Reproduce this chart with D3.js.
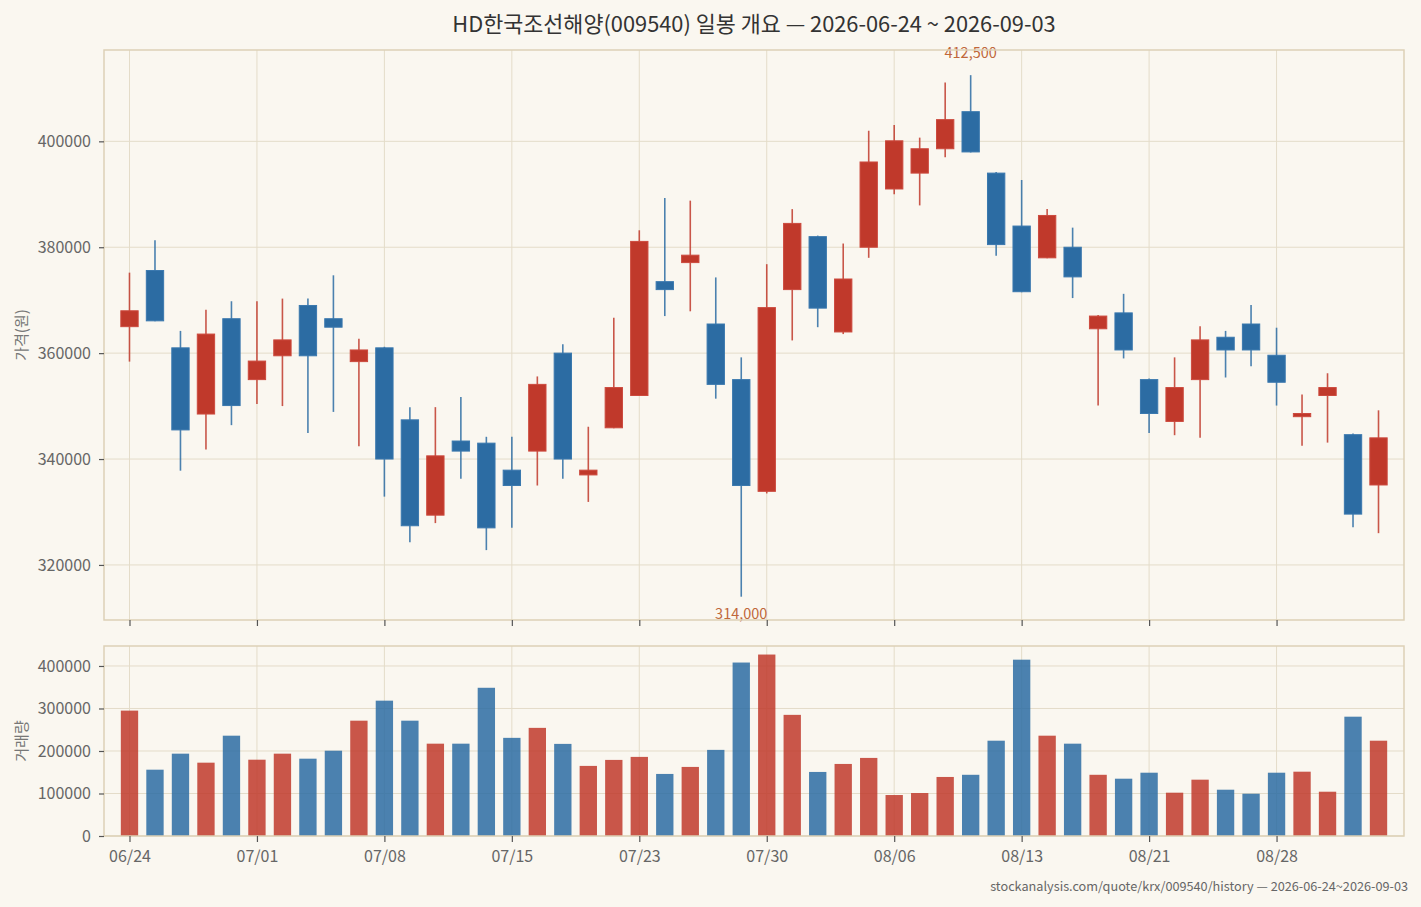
<!DOCTYPE html>
<html>
<head>
<meta charset="utf-8">
<script src="https://cdn.jsdelivr.net/npm/d3@7"></script>
<style>
  html, body { margin: 0; padding: 0; background: #faf7f0; }
  svg { display: block; font-family: "Noto Sans CJK KR", "Noto Sans", sans-serif; }
</style>
</head>
<body>
<script>
// 날짜 (거래일)
const dates = ["06/24","06/25","06/26","06/29","06/30","07/01","07/02","07/03","07/06","07/07",
  "07/08","07/09","07/10","07/13","07/14","07/15","07/16","07/20","07/21","07/22",
  "07/23","07/24","07/27","07/28","07/29","07/30","07/31","08/03","08/04","08/05",
  "08/06","08/07","08/10","08/11","08/12","08/13","08/14","08/18","08/19","08/20",
  "08/21","08/24","08/25","08/26","08/27","08/28","08/31","09/01","09/02","09/03"];

const opens  = [365000,375600,361000,348500,366500,355000,359500,369000,366500,358400,
  361000,347400,329400,343400,343000,337900,341500,360000,337000,345900,
  352000,373500,377100,365500,355000,333900,372000,382000,364000,380000,
  391000,394000,398600,405600,394000,384000,378000,380000,364600,367600,
  355000,347100,355000,363000,365500,359600,348000,352000,344600,335100];
const highs  = [375200,381300,364200,368200,369800,369800,370300,370300,374700,362700,
  361200,349800,349800,351700,344200,344200,355600,361700,346100,366700,
  383200,389300,388800,374300,359200,376800,387200,382200,380700,402000,
  403100,400700,411100,412500,394200,392700,387200,383700,367200,371200,
  355200,359200,365100,364200,369100,364800,352200,356200,344800,349200];
const lows   = [358400,366000,337800,341800,346400,350400,350000,344900,348900,342400,
  332900,324300,327900,336300,322800,327000,335000,336300,331900,345800,
  352000,367000,367900,351400,314000,333500,362400,364900,363600,378000,
  390000,387900,397000,397900,378400,371500,377900,370400,350100,359000,
  344900,344500,344000,355400,357500,350100,342500,343100,327100,326000];
const closes = [368000,366100,345500,363600,350100,358500,362500,359500,364900,360600,
  340000,327400,340600,341500,327000,335000,354100,340000,337900,353500,
  381100,372000,378500,354100,335000,368600,384500,368500,374000,396100,
  400100,398600,404100,398000,380500,371600,386000,374400,367000,360600,
  348600,353500,362500,360600,360600,354500,348600,353500,329600,344000];
const volumes = [295000,156000,193700,172500,236000,179500,193700,181900,200700,271300,
  318400,271300,217200,217200,348700,230900,254400,216700,164900,179000,
  186100,146000,162500,202600,408100,426900,285000,150700,169500,183700,
  96400,101100,138900,144000,224200,414800,236000,217200,144000,134800,
  148900,101900,132500,108900,99500,148900,151300,104200,280700,224200];

const priceDomain = [309600, 417250];
const priceTicks = [320000, 340000, 360000, 380000, 400000];
const volumeDomain = [0, 447000];
const volumeTicks = [0, 100000, 200000, 300000, 400000];
const tickEvery = 5;

const titleText = "HD한국조선해양(009540) 일봉 개요 — 2026-06-24 ~ 2026-09-03";
const sourceText = "stockanalysis.com/quote/krx/009540/history — 2026-06-24~2026-09-03";

const W = 1421, H = 907;
const left = 104, right = 1404;
const priceTop = 50, priceBottom = 620;
const volTop = 646, volBottom = 836;

const UP = "#c0392b", DOWN = "#2c6ca3";
const GRID = "#e4dcc9", FRAME = "#ddd1b6", TICK = "#555", LABEL = "#666";

const rows = dates.map((d, i) => ({
  date: d, open: opens[i], high: highs[i], low: lows[i], close: closes[i], volume: volumes[i]
}));

const svg = d3.select("body").append("svg")
  .attr("width", W).attr("height", H);

svg.append("rect").attr("width", W).attr("height", H).attr("fill", "#faf7f0");

const x = d3.scalePoint().domain(dates).range([left, right]).padding(1);
const step = x.step();
const barW = step * 0.68;

const y = d3.scaleLinear().domain(priceDomain).range([priceBottom, priceTop]);
const yv = d3.scaleLinear().domain(volumeDomain).range([volBottom, volTop]);

const tickDates = dates.filter((d, i) => i % tickEvery === 0);

// 제목
svg.append("text")
  .attr("x", (left + right) / 2).attr("y", 32)
  .attr("text-anchor", "middle")
  .attr("font-size", 21.8).attr("fill", "#333")
  .text(titleText);

function panel(top, bottom, yScale, ticks) {
  const g = svg.append("g");
  // 격자
  g.selectAll(".hg").data(ticks).enter().append("line")
    .attr("x1", left).attr("x2", right)
    .attr("y1", d => yScale(d)).attr("y2", d => yScale(d))
    .attr("stroke", GRID).attr("stroke-width", 1);
  g.selectAll(".vg").data(tickDates).enter().append("line")
    .attr("x1", d => x(d)).attr("x2", d => x(d))
    .attr("y1", top).attr("y2", bottom)
    .attr("stroke", GRID).attr("stroke-width", 1);
  return g;
}

function frame(top, bottom) {
  svg.append("rect")
    .attr("x", left).attr("y", top)
    .attr("width", right - left).attr("height", bottom - top)
    .attr("fill", "none").attr("stroke", FRAME).attr("stroke-width", 1.5);
}

function styleAxis(g) {
  g.select(".domain").remove();
  g.selectAll(".tick line").attr("stroke", TICK).attr("stroke-width", 1.2);
  g.selectAll(".tick text").attr("fill", LABEL).attr("font-size", 16)
    .attr("font-family", "'Noto Sans CJK KR', 'Noto Sans', sans-serif");
}

// 가격 패널
panel(priceTop, priceBottom, y, priceTicks);

const candles = svg.append("g");
candles.selectAll(".wick").data(rows).enter().append("line")
  .attr("x1", d => x(d.date)).attr("x2", d => x(d.date))
  .attr("y1", d => y(d.high)).attr("y2", d => y(d.low))
  .attr("stroke", d => d.close >= d.open ? UP : DOWN)
  .attr("stroke-opacity", 0.85)
  .attr("stroke-width", 1.6);

candles.selectAll(".body").data(rows).enter().append("rect")
  .attr("x", d => x(d.date) - barW / 2)
  .attr("width", barW)
  .attr("y", d => y(Math.max(d.open, d.close)))
  .attr("height", d => Math.max(1, y(Math.min(d.open, d.close)) - y(Math.max(d.open, d.close))))
  .attr("fill", d => d.close >= d.open ? UP : DOWN)
  .attr("stroke", d => d.close >= d.open ? "#cc4a3e" : "#3a78ae")
  .attr("stroke-width", 1);

// 최고 / 최저 표시
const hiRow = rows.reduce((a, b) => b.high > a.high ? b : a);
const loRow = rows.reduce((a, b) => b.low < a.low ? b : a);
svg.append("text")
  .attr("x", x(hiRow.date)).attr("y", y(hiRow.high) - 17)
  .attr("text-anchor", "middle").attr("font-size", 14.5).attr("fill", "#c0673a")
  .text(d3.format(",")(hiRow.high));
svg.append("text")
  .attr("x", x(loRow.date)).attr("y", y(loRow.low) + 22)
  .attr("text-anchor", "middle").attr("font-size", 14.5).attr("fill", "#c0673a")
  .text(d3.format(",")(loRow.low));

frame(priceTop, priceBottom);

svg.append("g")
  .attr("transform", `translate(${left},0)`)
  .call(d3.axisLeft(y).tickValues(priceTicks).tickSize(5).tickPadding(8).tickFormat(d3.format("d")))
  .call(styleAxis);

svg.append("g")
  .attr("transform", `translate(0,${priceBottom})`)
  .call(d3.axisBottom(x).tickValues(tickDates).tickSize(6).tickFormat(""))
  .call(styleAxis);

svg.append("text")
  .attr("transform", `translate(27,${(priceTop + priceBottom) / 2}) rotate(-90)`)
  .attr("text-anchor", "middle").attr("font-size", 15).attr("fill", "#777")
  .text("가격(원)");

// 거래량 패널
panel(volTop, volBottom, yv, volumeTicks);

svg.append("g").selectAll("rect").data(rows).enter().append("rect")
  .attr("x", d => x(d.date) - barW / 2)
  .attr("width", barW)
  .attr("y", d => yv(d.volume))
  .attr("height", d => yv(0) - yv(d.volume))
  .attr("fill", d => d.close >= d.open ? UP : DOWN)
  .attr("fill-opacity", 0.85);

frame(volTop, volBottom);

svg.append("g")
  .attr("transform", `translate(${left},0)`)
  .call(d3.axisLeft(yv).tickValues(volumeTicks).tickSize(5).tickPadding(8).tickFormat(d3.format("d")))
  .call(styleAxis);

svg.append("g")
  .attr("transform", `translate(0,${volBottom})`)
  .call(d3.axisBottom(x).tickValues(tickDates).tickSize(6).tickPadding(9))
  .call(styleAxis);

svg.append("text")
  .attr("transform", `translate(27,${(volTop + volBottom) / 2}) rotate(-90)`)
  .attr("text-anchor", "middle").attr("font-size", 15).attr("fill", "#777")
  .text("거래량");

// 출처
svg.append("text")
  .attr("x", 1408).attr("y", 891)
  .attr("text-anchor", "end").attr("font-size", 12.7).attr("fill", "#666")
  .text(sourceText);
</script>
</body>
</html>
